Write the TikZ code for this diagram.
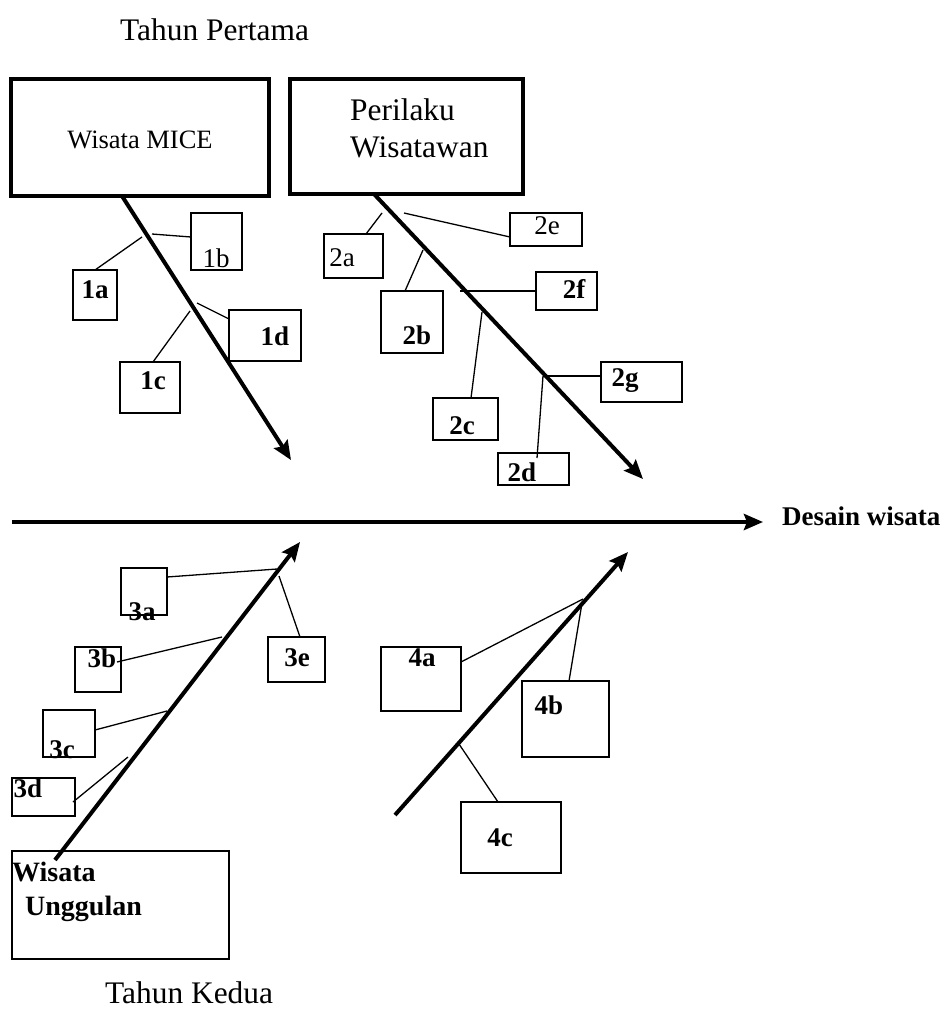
\documentclass[tikz,border=0pt]{standalone}
\usepackage{fontspec}
\setmainfont{Liberation Serif}
\usetikzlibrary{arrows.meta}
\tikzset{
  bone/.style={line width=4pt,-{Stealth[length=19pt,width=16pt,inset=3pt]}},
  twig/.style={line width=1.3pt},
  hbox/.style={draw,line width=3.5pt,anchor=north west,inner sep=0pt,outer sep=0pt},
  bx/.style={draw,line width=1.3pt,anchor=north west,inner sep=0pt,outer sep=0pt},
  lbl/.style={font=\fontsize{27}{30}\selectfont,inner sep=0pt},
  lblb/.style={inner sep=0pt,font=\fontsize{27}{30}\selectfont\bfseries},
  big/.style={font=\fontsize{31.4}{37}\selectfont,inner sep=0pt,anchor=base west}
}
\begin{document}
\begin{tikzpicture}[x=1pt,y=-1pt]
\useasboundingbox (0,0) rectangle (940,1009);
% heads
\node[big] (tp) at (120,40) {Tahun Pertama};
\node[big] (tk) at (105,1003) {Tahun Kedua};
\node[hbox,minimum width=258pt,minimum height=117pt] (mice) at (11,79) {};
\node[font=\fontsize{26.5}{30}\selectfont,inner sep=0pt] (miceT) at (140,140) {Wisata MICE};
\node[hbox,minimum width=233pt,minimum height=115pt] (per) at (290,79) {};
\node[big] (perA) at (350,120) {Perilaku};
\node[big] (perB) at (350,157) {Wisatawan};
\node[bx,line width=1.5pt,minimum width=217pt,minimum height=108pt] (wu) at (12,851) {};
\node[lblb,font=\fontsize{28}{30}\selectfont\bfseries,anchor=base west] (wuA) at (12,881) {Wisata};
\node[lblb,font=\fontsize{28}{30}\selectfont\bfseries,anchor=base west] (wuB) at (25,915) {Unggulan};
\node[lblb,anchor=west] (dw) at (782,516) {Desain wisata};

% main line and bones
\coordinate (m0) at (12,522);
\coordinate (m1) at (763,522);
\coordinate (t1) at (291,460);
\coordinate (t2) at (643,479);
\coordinate (s3) at (55,860);
\coordinate (t3) at (300,542);
\coordinate (s4) at (395,815);
\coordinate (t4) at (628,552);
\draw[bone] (m0) -- (m1);
\draw[bone] ([xshift=-18pt]mice.south) -- (t1);
\draw[bone] ([xshift=-32.5pt]per.south) -- (t2);
\draw[bone] (s3) -- (t3);
\draw[bone] (s4) -- (t4);

% 1
\node[bx,minimum width=44pt,minimum height=50pt] (b1a) at (73,270) {};
\node[bx,minimum width=51pt,minimum height=57pt] (b1b) at (191,213) {};
\node[bx,minimum width=60pt,minimum height=51pt] (b1c) at (120,362) {};
\node[bx,minimum width=72pt,minimum height=51pt] (b1d) at (229,310) {};
\node[lblb] (l1a) at (95,290) {1a};
\node[lbl] (l1b) at (216,258) {1b};
\node[lblb] (l1c) at (153,381) {1c};
\node[lblb] (l1d) at (275,336) {1d};
\coordinate (j1a) at (142,237);
\coordinate (j1b) at (152,234);
\coordinate (j1c) at (190,311);
\coordinate (j1d) at (197,303);
\draw[twig] (b1a.north) -- (j1a);
\draw[twig] (j1b) -- ([yshift=4.5pt]b1b.west);
\draw[twig] ([xshift=3pt]b1c.north) -- (j1c);
\draw[twig] (j1d) -- ([yshift=16.5pt]b1d.west);

% 2
\node[bx,minimum width=59pt,minimum height=44pt] (b2a) at (324,234) {};
\node[bx,minimum width=62pt,minimum height=62pt] (b2b) at (381,291) {};
\node[bx,minimum width=65pt,minimum height=42pt] (b2c) at (433,398) {};
\node[bx,minimum width=71pt,minimum height=32pt] (b2d) at (498,453) {};
\node[bx,minimum width=72pt,minimum height=33pt] (b2e) at (510,213) {};
\node[bx,minimum width=61pt,minimum height=38pt] (b2f) at (536,272) {};
\node[bx,minimum width=81pt,minimum height=40pt] (b2g) at (601,362) {};
\node[lbl] (l2a) at (342,258) {2a};
\node[lblb] (l2b) at (417,335) {2b};
\node[lblb] (l2c) at (462,426) {2c};
\node[lblb] (l2d) at (522,472) {2d};
\node[lbl] (l2e) at (547,226) {2e};
\node[lblb] (l2f) at (574,289) {2f};
\node[lblb] (l2g) at (625,381) {2g};
\coordinate (j2a) at (382,213);
\coordinate (j2b) at (423,250);
\coordinate (j2c) at (482,312);
\coordinate (j2e) at (404,213);
\coordinate (j2f) at (460,291);
\coordinate (j2g) at (543,376);
\draw[twig] ([xshift=12.5pt]b2a.north) -- (j2a);
\draw[twig] ([xshift=-7pt]b2b.north) -- (j2b);
\draw[twig] ([xshift=5.5pt]b2c.north) -- (j2c);
\draw[twig] ([xshift=3.5pt,yshift=-5pt]b2d.north) -- (j2g);
\draw[twig] (j2e) -- ([yshift=-7.5pt]b2e.west);
\draw[twig] (j2f) -- (b2f.west);
\draw[twig] (j2g) -- ([yshift=6pt]b2g.west);

% 3
\node[bx,minimum width=46pt,minimum height=47pt] (b3a) at (121,568) {};
\node[bx,minimum width=46pt,minimum height=45pt] (b3b) at (75,647) {};
\node[bx,minimum width=52pt,minimum height=47pt] (b3c) at (43,710) {};
\node[bx,minimum width=63pt,minimum height=38pt] (b3d) at (12,778) {};
\node[bx,minimum width=57pt,minimum height=45pt] (b3e) at (268,637) {};
\node[lblb] (l3a) at (142,612) {3a};
\node[lblb] (l3b) at (102,658) {3b};
\node[lblb] (l3c) at (62,750) {3c};
\node[lblb] (l3d) at (28,788) {3d};
\node[lblb] (l3e) at (297,658) {3e};
\coordinate (j3a) at (277,569);
\coordinate (j3b) at (222,637);
\coordinate (j3c) at (167,711);
\coordinate (j3d) at (128,757);
\coordinate (j3e) at (279,576);
\draw[twig] ([yshift=14.5pt]b3a.east) -- (j3a);
\draw[twig] ([xshift=-4pt,yshift=7.5pt]b3b.east) -- (j3b);
\draw[twig] ([yshift=3.5pt]b3c.east) -- (j3c);
\draw[twig] ([xshift=-2pt,yshift=-5pt]b3d.east) -- (j3d);
\draw[twig] ([xshift=3.5pt]b3e.north) -- (j3e);

% 4
\node[bx,minimum width=80pt,minimum height=64pt] (b4a) at (381,647) {};
\node[bx,minimum width=87pt,minimum height=76pt] (b4b) at (522,681) {};
\node[bx,minimum width=100pt,minimum height=71pt] (b4c) at (461,802) {};
\node[lblb] (l4a) at (422,658) {4a};
\node[lblb] (l4b) at (549,705) {4b};
\node[lblb] (l4c) at (500,838) {4c};
\coordinate (j4a) at (583,599);
\coordinate (j4b) at (582,603);
\coordinate (j4c) at (459,744);
\draw[twig] ([yshift=17pt]b4a.east) -- (j4a);
\draw[twig] ([xshift=3.5pt]b4b.north) -- (j4b);
\draw[twig] ([xshift=-13pt]b4c.north) -- (j4c);
\end{tikzpicture}
\end{document}
